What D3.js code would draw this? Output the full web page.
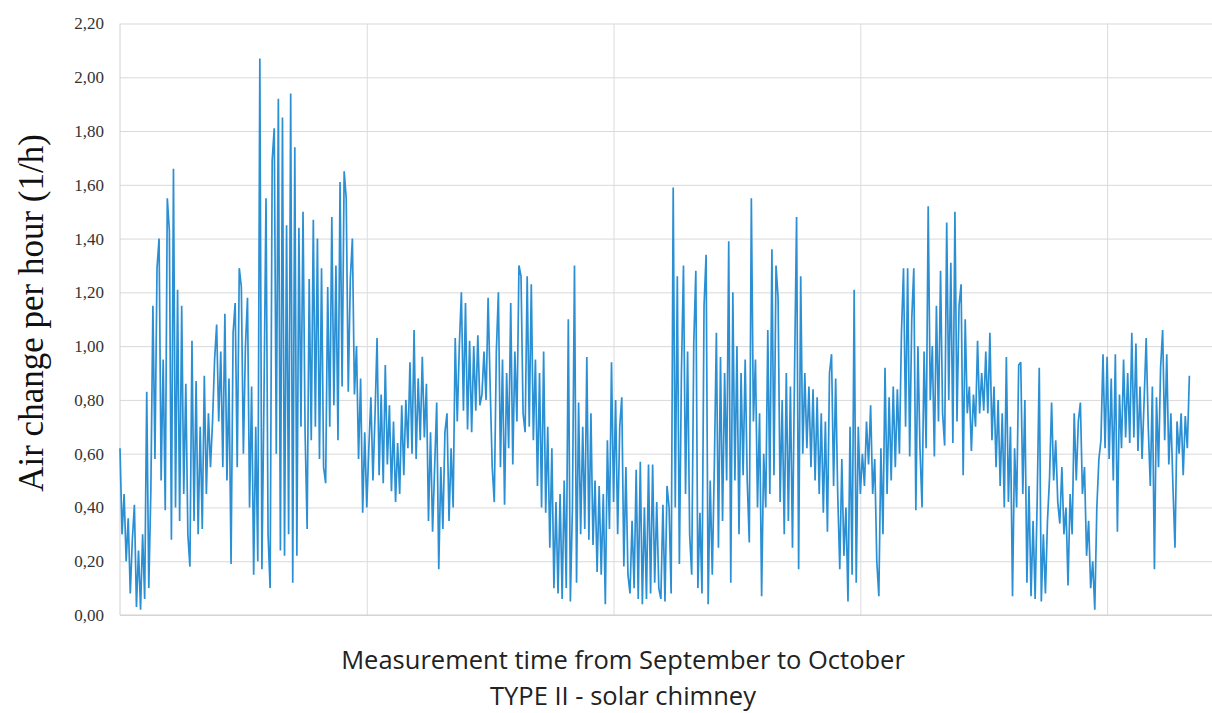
<!DOCTYPE html>
<html>
<head>
<meta charset="utf-8">
<script src="https://cdn.jsdelivr.net/npm/d3@7"></script>
<style>
  html, body { margin: 0; padding: 0; background: #ffffff; }
  svg { display: block; }
</style>
</head>
<body>
<svg id="chart" width="1212" height="713"></svg>
<script>
// ---- Data (air change per hour, one reading every 2 hours, September–October) ----
const stepHours = 2;
const acph = [
0.62,0.30,0.45,0.20,0.36,0.08,0.28,0.41,0.03,0.24,0.02,0.30,0.06,0.83,0.10,0.46,1.15,0.58,1.29,1.40,
0.50,0.95,0.39,1.55,1.43,0.28,1.66,0.40,1.21,0.35,1.15,0.45,0.86,0.30,0.18,1.02,0.35,0.87,0.30,0.70,
0.32,0.89,0.45,0.75,0.55,0.72,0.95,1.08,0.72,0.98,0.55,1.12,0.50,0.88,0.19,1.05,1.16,0.55,1.29,1.22,
0.60,1.00,1.18,0.40,0.85,0.15,0.70,0.20,2.07,0.17,0.80,1.55,0.30,0.10,1.69,1.81,0.60,1.92,0.24,1.85,
0.22,1.45,0.30,1.94,0.12,1.74,0.22,1.44,0.70,1.50,0.68,0.32,1.25,0.65,1.47,0.70,1.40,0.58,1.29,0.55,
0.49,1.22,0.70,1.48,0.78,1.30,0.65,1.61,0.85,1.65,1.55,0.83,1.25,1.40,0.82,1.00,0.58,0.88,0.38,0.68,
0.40,0.62,0.81,0.50,0.74,1.03,0.52,0.82,0.49,0.93,0.56,0.78,0.46,0.72,0.42,0.64,0.45,0.78,0.52,0.80,
0.62,0.94,0.60,1.06,0.58,0.88,0.65,0.96,0.66,0.86,0.35,0.68,0.31,0.55,0.79,0.17,0.55,0.32,0.68,0.75,
0.35,0.62,0.40,1.03,0.72,1.00,1.20,0.76,1.16,0.69,1.02,0.68,1.00,0.76,1.04,0.78,0.82,0.98,0.80,1.18,
0.85,0.55,0.42,0.98,1.20,0.55,0.95,0.41,0.90,0.62,1.16,0.56,0.98,0.72,1.30,1.26,0.75,0.68,1.26,0.70,
1.23,0.65,0.95,0.48,0.90,0.40,0.98,0.38,0.70,0.25,0.62,0.10,0.42,0.08,0.45,0.06,0.50,0.10,1.10,0.05,
0.40,1.30,0.12,0.79,0.30,0.70,0.32,0.96,0.28,0.75,0.26,0.50,0.16,0.48,0.15,0.45,0.04,0.65,0.32,0.94,
0.42,0.80,0.30,0.70,0.81,0.18,0.55,0.15,0.08,0.35,0.10,0.54,0.06,0.57,0.04,0.40,0.06,0.56,0.08,0.56,
0.12,0.42,0.10,0.06,0.41,0.05,0.48,0.40,0.08,1.59,0.40,1.26,0.19,0.90,1.30,0.45,0.98,0.30,0.15,1.01,
1.28,0.10,0.38,0.08,1.15,1.34,0.04,0.50,0.15,0.55,1.05,0.25,0.96,0.35,0.90,0.50,1.39,0.12,1.20,0.50,
1.00,0.30,0.90,0.52,0.95,0.50,0.27,1.55,0.72,0.95,0.40,0.75,0.07,0.60,0.40,1.06,0.45,1.36,0.52,1.30,
1.18,0.42,0.80,0.30,0.90,0.35,0.85,0.25,0.90,1.48,0.17,1.26,0.60,0.90,0.62,0.85,0.55,0.84,0.50,0.81,
0.45,0.75,0.38,0.72,0.31,0.90,0.97,0.48,0.88,0.45,0.17,0.58,0.22,0.40,0.05,0.70,0.15,1.21,0.12,0.70,
0.45,0.60,0.48,0.72,0.56,0.78,0.45,0.58,0.20,0.07,0.62,0.30,0.92,0.45,0.81,0.50,0.85,0.55,0.84,0.60,
1.05,1.29,0.70,1.29,0.59,1.10,1.29,0.39,1.00,0.62,0.40,0.98,0.62,1.52,0.80,1.00,0.59,1.15,0.72,1.28,
0.75,0.63,1.46,0.80,1.31,0.64,1.50,0.72,1.15,1.23,0.52,1.10,0.75,0.85,0.61,0.82,0.70,1.02,0.75,0.90,
0.76,0.98,0.75,1.05,0.65,0.85,0.55,0.80,0.48,0.75,0.40,0.96,0.42,0.70,0.07,0.62,0.40,0.93,0.94,0.45,
0.80,0.12,0.48,0.07,0.35,0.06,0.43,0.92,0.05,0.30,0.08,0.35,0.51,0.79,0.50,0.65,0.42,0.34,0.55,0.30,
0.40,0.11,0.45,0.30,0.75,0.50,0.72,0.79,0.45,0.55,0.22,0.35,0.10,0.20,0.02,0.40,0.58,0.65,0.97,0.62,
0.96,0.58,0.88,0.50,0.97,0.31,0.82,0.62,0.95,0.66,0.90,0.64,1.05,0.66,1.01,0.61,0.85,0.58,0.80,1.03,
0.70,0.48,0.85,0.17,0.81,0.55,0.92,1.06,0.65,0.97,0.56,0.75,0.48,0.25,0.72,0.60,0.75,0.52,0.74,0.62,
0.89
];
const yTicks = [0, 0.2, 0.4, 0.6, 0.8, 1.0, 1.2, 1.4, 1.6, 1.8, 2.0, 2.2];
const xGridHours = [240, 480, 720, 960];   // vertical gridlines every 10 days
const xDomainHours = [0, 1062];
const yTitle = "Air change per hour (1/h)";
const xTitle1 = "Measurement time from September to October";
const xTitle2 = "TYPE II - solar chimney";

// ---- Layout ----
const svg = d3.select("#chart");
const padL = 120, padR = 1212, padT = 23.5, padB = 615;

const x = d3.scaleLinear().domain(xDomainHours).range([padL, padR]);
const y = d3.scaleLinear().domain([0, 2.2]).range([padB, padT]);

const fmt = v => d3.format(".2f")(v).replace(".", ",");

// horizontal gridlines + y tick labels
svg.append("g")
  .attr("transform", `translate(${padL},0)`)
  .call(d3.axisLeft(y).tickValues(yTicks).tickSize(-(padR - padL)).tickFormat(fmt).tickPadding(16))
  .call(g => g.select(".domain").remove())
  .call(g => g.selectAll(".tick line").attr("stroke", "#d9d9d9").attr("stroke-width", 1))
  .call(g => g.selectAll(".tick text")
      .attr("font-family", "'Liberation Serif', 'DejaVu Serif', serif")
      .attr("font-size", 17).attr("fill", "#333"));

// vertical gridlines
svg.append("g")
  .attr("transform", `translate(0,${padT})`)
  .call(d3.axisBottom(x).tickValues(xGridHours).tickSize(padB - padT).tickFormat(""))
  .call(g => g.select(".domain").remove())
  .call(g => g.selectAll(".tick line").attr("stroke", "#dcdcdc").attr("stroke-width", 1));

// left border
svg.append("line")
  .attr("x1", padL).attr("x2", padL).attr("y1", padT).attr("y2", padB)
  .attr("stroke", "#d0d0d0").attr("stroke-width", 1);
// bottom axis line
svg.append("line")
  .attr("x1", padL).attr("x2", padR).attr("y1", y(0)).attr("y2", y(0))
  .attr("stroke", "#d0d0d0").attr("stroke-width", 1);

// series line
const line = d3.line()
  .x((d, i) => x(i * stepHours))
  .y(d => y(d));

svg.append("path")
  .datum(acph)
  .attr("fill", "none")
  .attr("stroke", "#2b8fd3")
  .attr("stroke-width", 1.7)
  .attr("stroke-linejoin", "bevel")
  .attr("d", line);

// axis titles
svg.append("text")
  .attr("transform", `translate(43,313) rotate(-90)`)
  .attr("text-anchor", "middle")
  .attr("font-family", "'Liberation Serif', 'DejaVu Serif', serif")
  .attr("font-size", 35).attr("fill", "#111")
  .text(yTitle);

svg.append("text")
  .attr("x", 623).attr("y", 669)
  .attr("text-anchor", "middle")
  .attr("font-family", "'Open Sans', 'Noto Sans', sans-serif")
  .attr("font-size", 25.5).attr("fill", "#222")
  .text(xTitle1);

svg.append("text")
  .attr("x", 623).attr("y", 705)
  .attr("text-anchor", "middle")
  .attr("font-family", "'Open Sans', 'Noto Sans', sans-serif")
  .attr("font-size", 25.5).attr("fill", "#222")
  .text(xTitle2);
</script>
</body>
</html>
